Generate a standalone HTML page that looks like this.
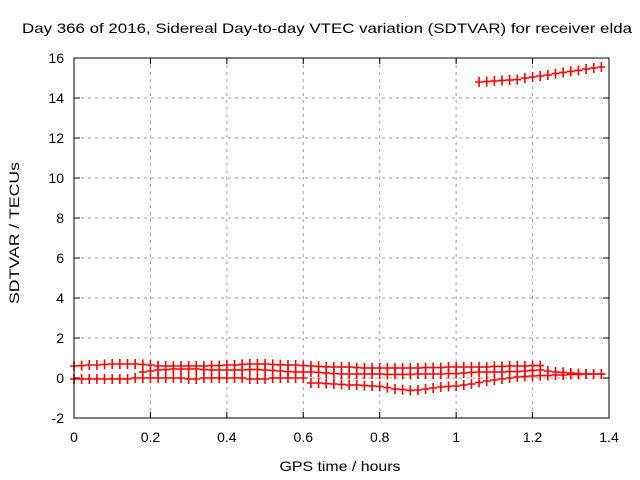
<!DOCTYPE html>
<html><head><meta charset="utf-8"><style>
body{margin:0;background:#fff}
svg{display:block;font-family:"Liberation Sans",sans-serif}
</style></head><body>
<svg id="c" width="640" height="480">
<rect width="640" height="480" fill="#fff"/>
<text x="327" y="33" font-size="14" text-anchor="middle" textLength="610" lengthAdjust="spacingAndGlyphs">Day 366 of 2016, Sidereal Day-to-day VTEC variation (SDTVAR) for receiver elda</text>
<text x="340" y="471" font-size="14" text-anchor="middle" textLength="121" lengthAdjust="spacingAndGlyphs">GPS time / hours</text>
<text transform="translate(19,233) rotate(-90)" font-size="14" text-anchor="middle" textLength="142" lengthAdjust="spacingAndGlyphs">SDTVAR / TECUs</text>
<g id="grid"></g><g id="marks"></g>
<rect x="74" y="58" width="535" height="360" fill="none" stroke="#000" stroke-width="1"/>
</svg>
<script>
const xTicks=[0,0.2,0.4,0.6,0.8,1,1.2,1.4];
const xTickLabels=["0","0.2","0.4","0.6","0.8","1","1.2","1.4"];
const yTicks=[-2,0,2,4,6,8,10,12,14,16];
const s1x=[0,0.02,0.04,0.06,0.08,0.1,0.12,0.14,0.16,0.18,0.2,0.22,0.24,0.26,0.28,0.3,0.32,0.34,0.36,0.38,0.4,0.42,0.44,0.46,0.48,0.5,0.52,0.54,0.56,0.58,0.6,0.62,0.64,0.66,0.68,0.7,0.72,0.74,0.76,0.78,0.8,0.82,0.84,0.86,0.88,0.9,0.92,0.94,0.96,0.98,1,1.02,1.04,1.06,1.08,1.1,1.12,1.14,1.16,1.18,1.2,1.22];
const s1y=[0.6,0.62,0.65,0.65,0.68,0.7,0.7,0.7,0.7,0.68,0.65,0.6,0.6,0.6,0.6,0.6,0.6,0.6,0.62,0.62,0.65,0.65,0.68,0.7,0.7,0.7,0.68,0.66,0.65,0.65,0.62,0.6,0.58,0.56,0.55,0.55,0.55,0.52,0.5,0.5,0.5,0.5,0.5,0.5,0.5,0.5,0.52,0.52,0.52,0.55,0.55,0.55,0.55,0.55,0.55,0.58,0.58,0.6,0.6,0.6,0.62,0.62];
const s2x=[0,0.02,0.04,0.06,0.08,0.1,0.12,0.14,0.16,0.18,0.2,0.22,0.24,0.26,0.28,0.3,0.32,0.34,0.36,0.38,0.4,0.42,0.44,0.46,0.48,0.5,0.52,0.54,0.56,0.58,0.6,0.62,0.64,0.66,0.68,0.7,0.72,0.74,0.76,0.78,0.8,0.82,0.84,0.86,0.88,0.9,0.92,0.94,0.96,0.98,1,1.02,1.04,1.06,1.08,1.1,1.12,1.14,1.16,1.18,1.2,1.22,1.24,1.26,1.28,1.3,1.32,1.34,1.36,1.38];
const s2y=[-0.05,-0.05,-0.05,-0.05,-0.05,-0.05,-0.05,-0.05,0,0,0,0,0,0,0,-0.05,-0.05,0,0,0,0,0,0,-0.05,-0.05,-0.05,0,0,0,0,0,-0.25,-0.25,-0.28,-0.3,-0.32,-0.35,-0.35,-0.38,-0.4,-0.42,-0.48,-0.55,-0.58,-0.62,-0.6,-0.55,-0.5,-0.45,-0.42,-0.4,-0.35,-0.3,-0.22,-0.15,-0.1,-0.05,0,0.05,0.08,0.1,0.12,0.12,0.15,0.15,0.18,0.18,0.2,0.2,0.2];
const s3x=[0.18,0.2,0.22,0.24,0.26,0.28,0.3,0.32,0.34,0.36,0.38,0.4,0.42,0.44,0.46,0.48,0.5,0.52,0.54,0.56,0.58,0.6,0.62,0.64,0.66,0.68,0.7,0.72,0.74,0.76,0.78,0.8,0.82,0.84,0.86,0.88,0.9,0.92,0.94,0.96,0.98,1,1.02,1.04,1.06,1.08,1.1,1.12,1.14,1.16,1.18,1.2,1.22,1.24,1.26,1.28,1.3,1.32,1.34,1.36,1.38];
const s3y=[0.3,0.35,0.4,0.42,0.45,0.45,0.45,0.45,0.42,0.4,0.4,0.4,0.4,0.4,0.42,0.42,0.4,0.38,0.35,0.32,0.3,0.3,0.3,0.28,0.25,0.22,0.2,0.2,0.2,0.2,0.2,0.2,0.18,0.18,0.18,0.18,0.2,0.2,0.2,0.2,0.22,0.22,0.25,0.28,0.3,0.3,0.3,0.3,0.32,0.32,0.35,0.38,0.4,0.35,0.3,0.28,0.25,0.22,0.2,0.2,0.2];
const s4x=[1.06,1.08,1.1,1.12,1.14,1.16,1.18,1.2,1.22,1.24,1.26,1.28,1.3,1.32,1.34,1.36,1.38];
const s4y=[14.8,14.82,14.85,14.88,14.9,14.92,15,15.05,15.1,15.15,15.22,15.28,15.33,15.38,15.45,15.5,15.55];
const X=v=>74+v*535/1.4, Y=v=>418-(v+2)*20;
const NS="http://www.w3.org/2000/svg";
const svg=document.getElementById('c'),grid=document.getElementById('grid'),marks=document.getElementById('marks');
function mk(tag,attrs,parent){const e=document.createElementNS(NS,tag);for(const k in attrs)e.setAttribute(k,attrs[k]);parent.appendChild(e);return e;}
xTicks.forEach((t,i)=>{
  const x=X(t);
  if(i>0&&i<xTicks.length-1){const g=mk('line',{x1:x,x2:x,y1:58,y2:418,stroke:'#a0a0a0','stroke-dasharray':'3,4'},grid);
  
  }
  mk('line',{x1:x,x2:x,y1:418,y2:412,stroke:'#000'},grid);
  mk('line',{x1:x,x2:x,y1:58,y2:64,stroke:'#000'},grid);
  const l=mk('text',{x:x,y:442,'font-size':14,'text-anchor':'middle'},grid);l.textContent=xTickLabels[i];
  
  
});
yTicks.forEach((t,i)=>{
  const y=Y(t);
  if(i>0&&i<yTicks.length-1){const g=mk('line',{x1:74,x2:609,y1:y,y2:y,stroke:'#a0a0a0','stroke-dasharray':'3,4'},grid);
  
  }
  mk('line',{x1:74,x2:80,y1:y,y2:y,stroke:'#000'},grid);
  mk('line',{x1:603,x2:609,y1:y,y2:y,stroke:'#000'},grid);
  const l=mk('text',{x:64,y:y+5,'font-size':14,'text-anchor':'end'},grid);l.textContent=String(t);
  
  
});
[[s1x,s1y],[s2x,s2y],[s3x,s3y],[s4x,s4y]].forEach((s,si)=>{
  s[0].forEach((xv,i)=>{
    const x=X(xv),y=Y(s[1][i]);
    const p=mk('path',{d:`M${x-4},${y}H${x+4}M${x},${y-5}V${y+5}`,stroke:'#f00','stroke-width':1.6},marks);
    
    
  });
});
</script>
</body></html>
